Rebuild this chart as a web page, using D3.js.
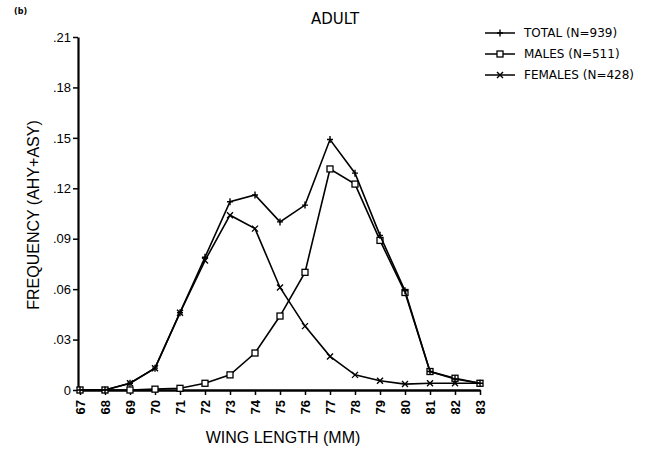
<!DOCTYPE html>
<html>
<head>
<meta charset="utf-8">
<script src="https://cdn.jsdelivr.net/npm/d3@7"></script>
<style>
  body { margin: 0; background: #fff; }
  text { fill: #000; }
</style>
</head>
<body>
<div id="chart"></div>
<script>
var wingLength = [67, 68, 69, 70, 71, 72, 73, 74, 75, 76, 77, 78, 79, 80, 81, 82, 83];
var total   = [0, 0, 0.004, 0.013, 0.046, 0.079, 0.112, 0.116, 0.100, 0.110, 0.149, 0.129, 0.092, 0.059, 0.011, 0.0065, 0.004];
var males   = [0, 0, 0, 0.0005, 0.001, 0.004, 0.009, 0.022, 0.044, 0.070, 0.1315, 0.1225, 0.089, 0.058, 0.011, 0.007, 0.004];
var females = [0, 0, 0.004, 0.013, 0.046, 0.077, 0.104, 0.096, 0.061, 0.038, 0.020, 0.009, 0.0055, 0.0035, 0.004, 0.004, 0.004];
var yTicks = [0, 0.03, 0.06, 0.09, 0.12, 0.15, 0.18, 0.21];
var seriesNames = ["TOTAL (N=939)", "MALES (N=511)", "FEMALES (N=428)"];

var width = 657, height = 450;

var svg = d3.select("#chart")
    .append("svg")
    .attr("width", width)
    .attr("height", height);

var x = d3.scaleLinear().domain([67, 83]).range([80, 480]);
var y = d3.scaleLinear().domain([0, 0.21]).range([390, 37]);

// y axis
var yAxis = svg.append("g")
    .attr("transform", "translate(" + (x(67) - 2) + ",0)")
    .call(d3.axisLeft(y)
        .tickValues(yTicks)
        .tickSize(5)
        .tickSizeOuter(0)
        .tickFormat(function (d) { return d == 0 ? "0" : d3.format(".2f")(d).replace(/^0/, ""); }));
yAxis.select(".domain").style("stroke-width", 2.2);
yAxis.selectAll(".tick line").style("stroke-width", 1.5);
yAxis.selectAll(".tick text")
    .attr("x", -7)
    .style("font-family", "Liberation Sans, Arial, sans-serif")
    .style("font-size", "13px");

// x axis
var xAxis = svg.append("g")
    .attr("transform", "translate(0," + y(0) + ")")
    .call(d3.axisBottom(x)
        .tickValues(wingLength)
        .tickSize(5)
        .tickSizeOuter(0)
        .tickFormat(d3.format("d")));
xAxis.select(".domain").style("stroke-width", 2.6);
xAxis.selectAll(".tick line").style("stroke-width", 1.5);
xAxis.selectAll(".tick text")
    .attr("transform", "rotate(-90)")
    .attr("x", -10)
    .attr("y", 0)
    .attr("dy", "0.35em")
    .attr("text-anchor", "end")
    .style("font-family", "Liberation Sans, Arial, sans-serif")
    .style("font-size", "13px")
    .style("font-weight", "bold");

var line = d3.line()
    .x(function (d, i) { return x(wingLength[i]); })
    .y(function (d) { return y(d); });

var plusPath = "M-3,0H3M0,-3.5V3.5";
var crossPath = "M-3,-3L3,3M-3,3L3,-3";

function drawSeries(values, marker) {
    svg.append("path")
        .datum(values)
        .attr("d", line)
        .style("fill", "none")
        .style("stroke", "#000")
        .style("stroke-width", 1.6);
    var g = svg.append("g");
    values.forEach(function (v, i) {
        if (marker == "square") {
            g.append("rect")
                .attr("x", x(wingLength[i]) - 3)
                .attr("y", y(v) - 3)
                .attr("width", 6)
                .attr("height", 6)
                .style("fill", "#fff")
                .style("stroke", "#000")
                .style("stroke-width", 1.3);
        } else {
            g.append("path")
                .attr("d", marker == "plus" ? plusPath : crossPath)
                .attr("transform", "translate(" + x(wingLength[i]) + "," + y(v) + ")")
                .style("stroke", "#000")
                .style("stroke-width", 1.4);
        }
    });
}

drawSeries(females, "cross");
drawSeries(males, "square");
drawSeries(total, "plus");

// titles
svg.append("text")
    .attr("x", 335)
    .attr("y", 24)
    .attr("text-anchor", "middle")
    .text("ADULT")
    .style("font-family", "DejaVu Sans, sans-serif")
    .style("font-size", "15px");

svg.append("text")
    .attr("x", 14)
    .attr("y", 14)
    .text("(b)")
    .style("font-family", "DejaVu Sans, sans-serif")
    .style("font-size", "8px")
    .style("font-weight", "bold");

svg.append("text")
    .attr("transform", "translate(39,215) rotate(-90)")
    .attr("text-anchor", "middle")
    .text("FREQUENCY (AHY+ASY)")
    .style("font-family", "Liberation Sans, Arial, sans-serif")
    .style("font-size", "16px");

svg.append("text")
    .attr("x", 283)
    .attr("y", 443)
    .attr("text-anchor", "middle")
    .text("WING LENGTH (MM)")
    .style("font-family", "Liberation Sans, Arial, sans-serif")
    .style("font-size", "16px");

// legend
var markers = ["plus", "square", "cross"];
seriesNames.forEach(function (name, i) {
    var ly = 33 + i * 21;
    svg.append("line")
        .attr("x1", 485).attr("x2", 515)
        .attr("y1", ly).attr("y2", ly)
        .style("stroke", "#000")
        .style("stroke-width", 1.5);
    if (markers[i] == "square") {
        svg.append("rect")
            .attr("x", 497).attr("y", ly - 3)
            .attr("width", 6).attr("height", 6)
            .style("fill", "#fff")
            .style("stroke", "#000")
            .style("stroke-width", 1.3);
    } else {
        svg.append("path")
            .attr("d", markers[i] == "plus" ? plusPath : crossPath)
            .attr("transform", "translate(500," + ly + ")")
            .style("stroke", "#000")
            .style("stroke-width", 1.4);
    }
    svg.append("text")
        .attr("x", 524)
        .attr("y", ly)
        .attr("dy", "0.35em")
        .text(name)
        .style("font-family", "DejaVu Sans, sans-serif")
        .style("font-size", "12px");
});
</script>
</body>
</html>
